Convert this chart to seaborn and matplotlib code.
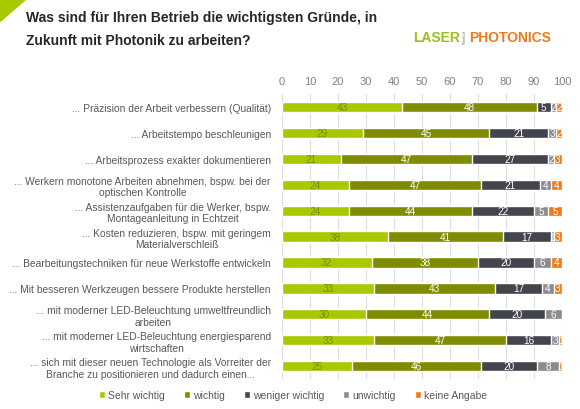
import matplotlib
matplotlib.use("Agg")
import matplotlib.pyplot as plt
import numpy as np
import pandas as pd
import seaborn as sns
from matplotlib.patches import Polygon

# data
reasons = [
    "... Präzision der Arbeit verbessern (Qualität)",
    "... Arbeitstempo beschleunigen",
    "... Arbeitsprozess exakter dokumentieren",
    "... Werkern monotone Arbeiten abnehmen, bspw. bei der\noptischen Kontrolle",
    "... Assistenzaufgaben für die Werker, bspw.\nMontageanleitung in Echtzeit",
    "... Kosten reduzieren, bspw. mit geringem\nMaterialverschleiß",
    "... Bearbeitungstechniken für neue Werkstoffe entwickeln",
    "... Mit besseren Werkzeugen bessere Produkte herstellen",
    "... mit moderner LED-Beleuchtung umweltfreundlich\narbeiten",
    "... mit moderner LED-Beleuchtung energiesparend\nwirtschaften",
    "... sich mit dieser neuen Technologie als Vorreiter der\nBranche zu positionieren und dadurch einen...",
]
series = ["Sehr wichtig", "wichtig", "weniger wichtig", "unwichtig", "keine Angabe"]
sehr_wichtig = [43, 29, 21, 24, 24, 38, 32, 33, 30, 33, 25]
wichtig = [48, 45, 47, 47, 44, 41, 38, 43, 44, 47, 46]
weniger_wichtig = [5, 21, 27, 21, 22, 17, 20, 17, 20, 16, 20]
unwichtig = [2, 3, 2, 4, 5, 1, 6, 4, 6, 3, 8]
keine_angabe = [2, 2, 3, 4, 5, 3, 4, 3, 0, 1, 1]

colors = ["#aac800", "#7f8c00", "#43454d", "#8c8c8f", "#f07a1a"]
label_colors = ["#7f8c00", "white", "white", "white", "white"]

df = pd.DataFrame({"reason": reasons})
values = [sehr_wichtig, wichtig, weniger_wichtig, unwichtig, keine_angabe]
for name, vals in zip(series, values):
    df[name] = vals
cum = df[series].cumsum(axis=1)

sns.set_theme(style="white")
plt.rcParams["font.family"] = ["Liberation Sans", "DejaVu Sans"]

fig = plt.figure(figsize=(5.8, 4.1), dpi=100)
ax = fig.add_axes([0.486, 0.073, 0.483, 0.695])

# stacked bars: draw cumulative totals from the back to the front
for i in range(len(series) - 1, -1, -1):
    sns.barplot(x=cum[series[i]], y=df["reason"], orient="h", color=colors[i],
                width=0.4, ax=ax, saturation=1, label=series[i], zorder=2)
handles, labels = ax.get_legend_handles_labels()
if ax.get_legend() is not None:
    ax.get_legend().remove()

# value labels
for i, name in enumerate(series):
    for j in range(len(df)):
        v = df[name].iloc[j]
        if v == 0:
            continue
        xc = cum[name].iloc[j] - v / 2
        ax.text(xc, j, str(v), ha="center", va="center", fontsize=7.2,
                color=label_colors[i], zorder=3)

ax.set_xlim(0, 100)
ax.set_ylim(10.5, -0.5)
ax.set_xticks(np.arange(0, 101, 10))
ax.xaxis.tick_top()
ax.tick_params(axis="x", length=0, labelsize=8, labelcolor="#808080", pad=6)
ax.tick_params(axis="y", length=0, labelsize=7.4, labelcolor="#595959", pad=8)
for lab in ax.get_yticklabels():
    lab.set_multialignment("center")
ax.set_xlabel("")
ax.set_ylabel("")
ax.grid(axis="x", color="#dedede", linewidth=0.8, zorder=0)
ax.set_axisbelow(True)
for s in ax.spines.values():
    s.set_visible(False)

# legend in series order
order = [labels.index(s) for s in series]
leg = fig.legend([handles[k] for k in order], series, loc="center",
                 bbox_to_anchor=(0.505, 0.034), ncol=5, frameon=False,
                 fontsize=7.5, handlelength=0.6, handleheight=0.6,
                 handletextpad=0.3, columnspacing=1.8)
for t in leg.get_texts():
    t.set_color("#595959")

# title and decorations
fig.text(0.045, 0.972, "Was sind für Ihren Betrieb die wichtigsten Gründe, in\n"
         "Zukunft mit Photonik zu arbeiten?", ha="left", va="top",
         fontsize=10, fontweight="bold", color="#262626", linespacing=1.75)
fig.patches.append(Polygon([[0, 1], [0.045, 1], [0, 0.945]], closed=True,
                           transform=fig.transFigure, color="#aac800"))
fig.text(0.712, 0.908, "LASER", ha="left", va="center", fontsize=10,
         fontweight="bold", color="#9cc21a")
fig.text(0.799, 0.908, "World of", ha="left", va="center", fontsize=2.5,
         rotation=90, color="#666666")
fig.text(0.808, 0.908, "PHOTONICS", ha="left", va="center", fontsize=10,
         fontweight="bold", color="#f07a1a")

fig.savefig("out.png", dpi=100, facecolor="white")
